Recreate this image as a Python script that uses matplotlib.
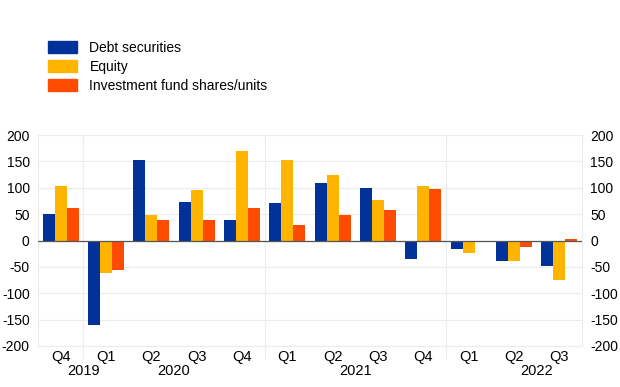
import matplotlib
matplotlib.use('Agg')
import matplotlib.pyplot as plt
import numpy as np
from matplotlib.patches import Patch

plt.rcParams['font.family'] = ['Liberation Sans', 'DejaVu Sans']
plt.rcParams['axes.unicode_minus'] = False

quarters = ['Q4', 'Q1', 'Q2', 'Q3', 'Q4', 'Q1', 'Q2', 'Q3', 'Q4', 'Q1', 'Q2', 'Q3']
years = ['2019', '2020', '2021', '2022']
year_pos = [0.5, 2.5, 6.5, 10.5]
year_breaks = [0.5, 4.5, 8.5]

debt = [51, -161, 152, 74, 39, 72, 109, 99, -35, -16, -39, -48]
equity = [104, -62, 49, 95, 169, 153, 125, 76, 104, -23, -38, -75]
funds = [62, -56, 39, 39, 62, 30, 48, 57, 97, -2, -12, 2]

series = [('Debt securities', debt, '#003299'),
          ('Equity', equity, '#FFB400'),
          ('Investment fund shares/units', funds, '#FF4B00')]

fig = plt.figure(figsize=(6.2, 3.87), dpi=100)
ax = fig.add_axes([0.0613, 0.106, 0.8774, 0.545])

x = np.arange(len(quarters))
w = 0.265
for i, (name, vals, col) in enumerate(series):
    ax.bar(x + (i - 1) * w, vals, w, color=col, zorder=3)

ax.set_xlim(-0.5, len(quarters) - 0.5)
ax.set_ylim(-200, 200)
ax.set_yticks(np.arange(-200, 201, 50))
for yv in np.arange(-200, 201, 50):
    ax.axhline(yv, color='#ececec', lw=0.8, zorder=1)
ax.axhline(0, color='#555555', lw=0.9, zorder=4)
for b in year_breaks:
    ax.axvline(b, color='#ececec', lw=0.8, zorder=1)

ax.set_xticks(x)
ax.set_xticklabels(quarters, fontsize=10.5)
ax.set_xticks(year_breaks, minor=True)
ax.tick_params(axis='x', which='major', length=0, pad=3)
ax.tick_params(axis='x', which='minor', length=9, color='#ececec', width=0.8)
ax.tick_params(axis='y', length=0, labelsize=10, pad=6)
for yl, yp in zip(years, year_pos):
    ax.text(yp, -0.085, yl, transform=ax.get_xaxis_transform(), ha='center', va='top', fontsize=10.5)

for s in ax.spines.values():
    s.set_color('#ececec')
    s.set_linewidth(0.8)

ax2 = ax.twinx()
ax2.set_ylim(-200, 200)
ax2.set_yticks(np.arange(-200, 201, 50))
ax2.tick_params(axis='y', length=0, labelsize=10, pad=6)
for s in ax2.spines.values():
    s.set_visible(False)

handles = [Patch(color=c, label=n) for n, v, c in series]
fig.legend(handles=handles, loc='upper left', bbox_to_anchor=(0.077, 0.894),
           frameon=False, fontsize=10, handlelength=2.1, handleheight=1.0,
           labelspacing=0.35, handletextpad=0.9, borderaxespad=0, borderpad=0)

fig.savefig('out.png', dpi=100)
